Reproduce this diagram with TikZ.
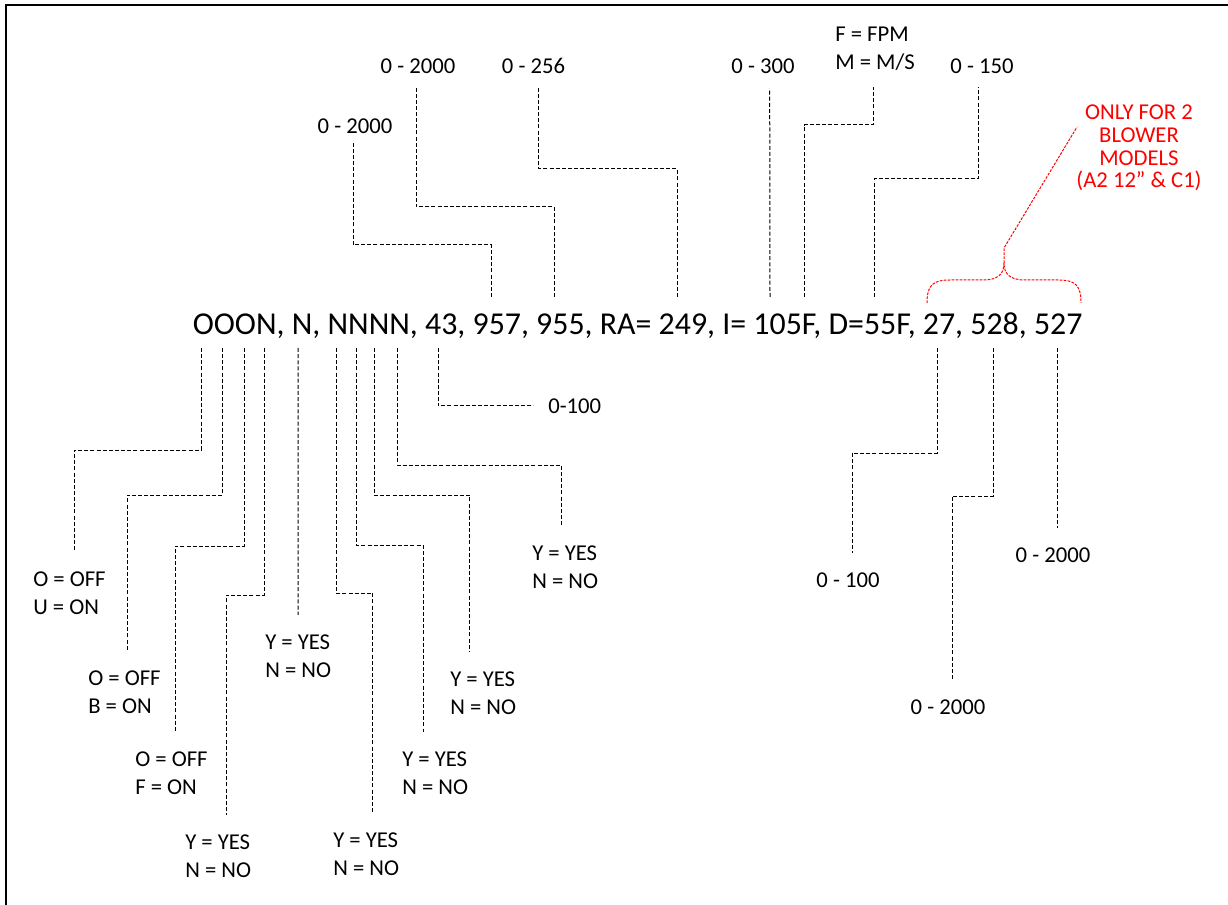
\documentclass[tikz,border=0pt]{standalone}
\usepackage{fontspec}
\setmainfont{Carlito}
\usetikzlibrary{calc}
\tikzset{
  lead/.style={draw=black,line width=0.75pt,dash pattern=on 3pt off 1.6pt},
  uplead/.style={lead,shorten >=10pt},
  dnlead/.style={lead,shorten >=14.5pt},
  redlead/.style={draw=red,line width=0.75pt,dash pattern=on 2pt off 1pt},
  lbl/.style={inner sep=0pt,font=\fontsize{17}{21}\selectfont,align=left},
  codeline/.style={inner sep=0pt,font=\fontsize{23.9}{28}\selectfont},
  redtxt/.style={inner sep=0pt,text=red,align=center,font=\fontsize{17}{16.9}\selectfont}
}
\begin{document}
\begin{tikzpicture}[x=0.75pt,y=-0.75pt]
  \useasboundingbox (0,0) rectangle (1228,905);
  \draw[line width=2pt] (6,905) -- (6,5) -- (1228,5);

  % the code string
  \node[codeline,anchor=base] (str) at (637.5,335)
    {OOON, N, NNNN, 43, 957, 955, RA= 249, I= 105F, D=55F, 27, 528, 527};
  \foreach \n/\x in {1/491,2/554,3/677,4/770,5/804,6/874}
    \coordinate (u\n) at (\x,297);
  \foreach \n/\x in {1/201,2/222,3/244,4/264,5/298,6/336,7/356,8/374,9/397,10/438,11/937,12/993,13/1057}
    \coordinate (s\n) at (\x,348);

  % labels above
  \node[lbl] (tA) at (355,126) {0 - 2000};
  \node[lbl] (tB) at (418,66) {0 - 2000};
  \node[lbl] (tC) at (533.5,66) {0 - 256};
  \node[lbl] (tD) at (763,66) {0 - 300};
  \node[lbl,anchor=west] (tE) at (835,49) {F = FPM\\M = M/S};
  \node[lbl] (tF) at (982,66) {0 - 150};
  \node[redtxt] (memo) at (1139,148) {ONLY FOR 2\\BLOWER\\MODELS\\(A2 12” \& C1)};
  \coordinate (mtail) at (1077,127);

  % labels below
  \node[lbl,anchor=west] (b1) at (33,593) {O = OFF\\U = ON};
  \node[lbl,anchor=west] (b2) at (88,692.5) {O = OFF\\B = ON};
  \node[lbl,anchor=west] (b3) at (135,773) {O = OFF\\F = ON};
  \node[lbl,anchor=west] (b4) at (185,856) {Y = YES\\N = NO};
  \node[lbl,anchor=west] (b5) at (265,656) {Y = YES\\N = NO};
  \node[lbl,anchor=west] (b6) at (333,854) {Y = YES\\N = NO};
  \node[lbl,anchor=west] (b7) at (402,773) {Y = YES\\N = NO};
  \node[lbl,anchor=west] (b8) at (450,693) {Y = YES\\N = NO};
  \node[lbl,anchor=west] (b9) at (532,567.5) {Y = YES\\N = NO};
  \node[lbl,anchor=west] (b10) at (548,406) {0-100};
  \node[lbl] (r1) at (848,580) {0 - 100};
  \node[lbl] (r2) at (948,707) {0 - 2000};
  \node[lbl] (r3) at (1053,555) {0 - 2000};

  % leaders up
  \draw[uplead,shorten >=7pt] (u1) -- ++(0,-52) -| ([xshift=-1.5pt]tA.south);
  \draw[uplead] (u2) -- ++(0,-90) -| ([xshift=-1.5pt]tB.south);
  \draw[uplead] (u3) -- ++(0,-128) -| ([xshift=4pt]tC.south);
  \draw[uplead,shorten >=11pt] (u4) -- ([xshift=5pt]tD.south);
  \draw[uplead,shorten >=12pt] (u5) -- ++(0,-172) -| ([xshift=-1.5pt]tE.south);
  \draw[uplead] (u6) -- ++(0,-118) -| ([xshift=-3pt]tF.south);

  % leaders down
  \draw[dnlead] (s1) -- ++(0,102) -| ([xshift=3.5pt]b1.north);
  \draw[dnlead] (s2) -- ++(0,147) -| ([xshift=2pt]b2.north);
  \draw[dnlead] (s3) -- ++(0,198) -| ([xshift=2.7pt]b3.north);
  \draw[dnlead] (s4) -- ++(0,247) -| ([xshift=6pt]b4.north);
  \draw[dnlead] (s5) -- (b5.north);
  \draw[dnlead] (s6) -- ++(0,245) -| ([xshift=5pt]b6.north);
  \draw[dnlead] (s7) -- ++(0,197) -| ([xshift=-9pt]b7.north);
  \draw[dnlead] (s8) -- ++(0,147) -| ([xshift=-10pt]b8.north);
  \draw[dnlead] (s9) -- ++(0,117) -| ([xshift=-3pt]b9.north);
  \draw[lead,shorten >=11pt] (s10) |- (b10);
  \draw[dnlead] (s11) -- ++(0,105) -| ([xshift=3pt]r1.north);
  \draw[dnlead] (s12) -- ++(0,148) -| ([xshift=3pt]r2.north);
  \draw[dnlead] (s13) -- ([xshift=3pt]r3.north);

  % brace over the last three values
  \coordinate (bl) at (927,303);
  \coordinate (br) at (1081,303);
  \coordinate (bm) at (1004,263);
  \coordinate (btip) at (1004,248);
  \draw[redlead] (bl) .. controls (927,285) and (933,280) .. (950,280) -- (983,280)
    .. controls (998,280) and (1004,274) .. (bm)
    .. controls (1004,274) and (1010,280) .. (1025,280) -- (1058,280)
    .. controls (1075,280) and (1081,285) .. (br);
  \draw[redlead] (bm) -- (btip) -- (mtail);
\end{tikzpicture}
\end{document}
